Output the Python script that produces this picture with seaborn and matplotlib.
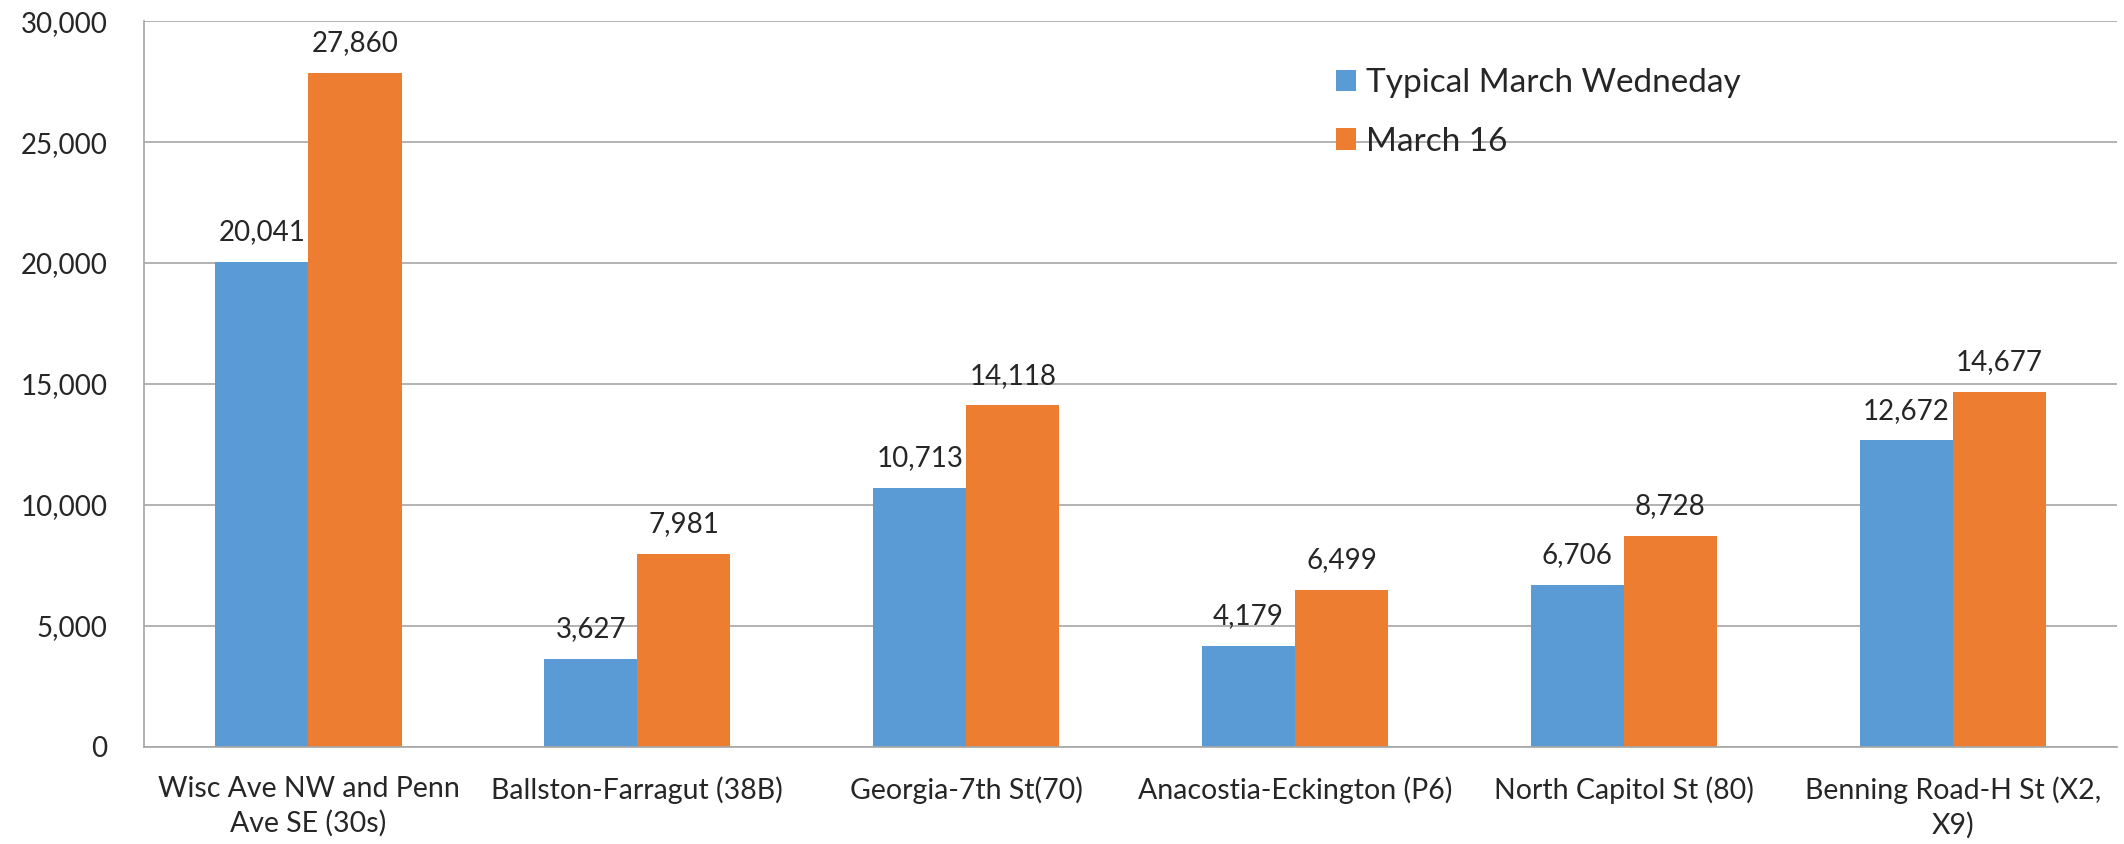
import seaborn as sns
import matplotlib.pyplot as plt
import matplotlib.ticker as mticker
import pandas as pd

routes = ["Wisc Ave NW and Penn\nAve SE (30s)", "Ballston-Farragut (38B)", "Georgia-7th St(70)",
          "Anacostia-Eckington (P6)", "North Capitol St (80)", "Benning Road-H St (X2,\nX9)"]
typical = [20041, 3627, 10713, 4179, 6706, 12672]
march16 = [27860, 7981, 14118, 6499, 8728, 14677]
series = ["Typical March Wedneday", "March 16"]
colors = ["#5B9BD5", "#ED7D31"]

df = pd.DataFrame({
    "route": routes * 2,
    "riders": typical + march16,
    "series": [series[0]] * len(routes) + [series[1]] * len(routes),
})

sns.set_style("white")
plt.rcParams["font.family"] = ["Lato", "DejaVu Sans"]

fig = plt.figure(figsize=(21.24, 8.44), dpi=100)
ax = fig.add_axes([0.0678, 0.115, 0.929, 0.86])

sns.barplot(data=df, x="route", y="riders", hue="series", palette=colors,
            width=0.566, gap=0, saturation=1, ax=ax, edgecolor="none")

# value labels on top of the bars
for cont in ax.containers:
    ax.bar_label(cont, labels=[f"{v:,.0f}" for v in cont.datavalues],
                 padding=12, fontsize=20)

ax.set_ylim(0, 30000)
ax.set_xlim(-0.5, len(routes) - 0.5)
ax.yaxis.set_major_locator(mticker.MultipleLocator(5000))
ax.yaxis.set_major_formatter(mticker.FuncFormatter(lambda v, p: f"{v:,.0f}"))
ax.grid(axis="y", color="#A6A6A6", linewidth=1.2)
ax.set_axisbelow(True)

ax.set_xticks(range(len(routes)))
ax.set_xticklabels(routes, fontsize=20.5, linespacing=1.35)
ax.set_xticks([i - 0.5 for i in range(len(routes) + 1)], minor=True)
ax.tick_params(axis="x", which="major", length=0, pad=21)
ax.tick_params(axis="x", which="minor", length=7.2, width=1.2, color="#A6A6A6")
ax.tick_params(axis="y", length=7.2, width=1.2, color="#A6A6A6", labelsize=20, pad=19)

for s in ["top", "right"]:
    ax.spines[s].set_visible(False)
for s in ["left", "bottom"]:
    ax.spines[s].set_color("#A6A6A6")
    ax.spines[s].set_linewidth(1.2)

ax.set_xlabel("")
ax.set_ylabel("")
ax.legend(loc="upper left", bbox_to_anchor=(0.604, 0.935), frameon=False,
          borderpad=0, borderaxespad=0, fontsize=24, handlelength=0.62,
          handleheight=0.62, handletextpad=0.3, labelspacing=0.85)

plt.savefig("out.png", dpi=100)
